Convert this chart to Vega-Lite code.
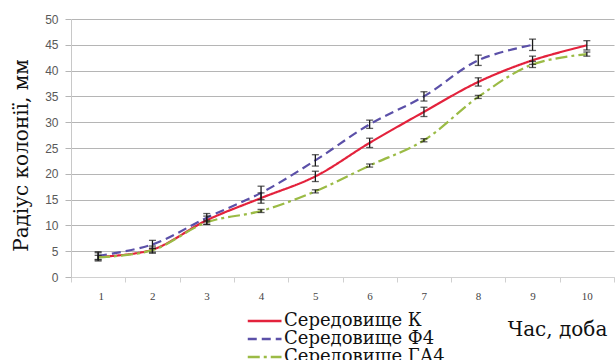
{
  "$schema": "https://vega.github.io/schema/vega-lite/v6.json",
  "autosize": {"type": "none"},
  "width": 543,
  "height": 258,
  "padding": {"left": 71, "top": 19, "right": 2, "bottom": 83},
  "background": "white",
  "config": {"view": {"stroke": null}},
  "data": {"values": [
    {"day": 1, "series": "Середовище К", "r": 3.9, "err": 0.8},
    {"day": 2, "series": "Середовище К", "r": 5.3, "err": 0.7},
    {"day": 3, "series": "Середовище К", "r": 11.0, "err": 0.8},
    {"day": 4, "series": "Середовище К", "r": 15.3, "err": 1.0},
    {"day": 5, "series": "Середовище К", "r": 19.5, "err": 1.0},
    {"day": 6, "series": "Середовище К", "r": 26.0, "err": 0.9},
    {"day": 7, "series": "Середовище К", "r": 32.0, "err": 0.9},
    {"day": 8, "series": "Середовище К", "r": 37.8, "err": 0.8},
    {"day": 9, "series": "Середовище К", "r": 42.0, "err": 0.8},
    {"day": 10, "series": "Середовище К", "r": 44.9, "err": 0.9},
    {"day": 1, "series": "Середовище Ф4", "r": 4.1, "err": 0.8},
    {"day": 2, "series": "Середовище Ф4", "r": 6.3, "err": 0.8},
    {"day": 3, "series": "Середовище Ф4", "r": 11.5, "err": 0.8},
    {"day": 4, "series": "Середовище Ф4", "r": 16.3, "err": 1.3},
    {"day": 5, "series": "Середовище Ф4", "r": 22.6, "err": 1.1},
    {"day": 6, "series": "Середовище Ф4", "r": 29.6, "err": 0.8},
    {"day": 7, "series": "Середовище Ф4", "r": 35.0, "err": 0.9},
    {"day": 8, "series": "Середовище Ф4", "r": 42.0, "err": 1.0},
    {"day": 9, "series": "Середовище Ф4", "r": 45.0, "err": 1.1},
    {"day": 1, "series": "Середовище ГА4", "r": 3.8, "err": 0.4},
    {"day": 2, "series": "Середовище ГА4", "r": 5.2, "err": 0.4},
    {"day": 3, "series": "Середовище ГА4", "r": 10.6, "err": 0.4},
    {"day": 4, "series": "Середовище ГА4", "r": 12.8, "err": 0.3},
    {"day": 5, "series": "Середовище ГА4", "r": 16.6, "err": 0.3},
    {"day": 6, "series": "Середовище ГА4", "r": 21.6, "err": 0.3},
    {"day": 7, "series": "Середовище ГА4", "r": 26.5, "err": 0.3},
    {"day": 8, "series": "Середовище ГА4", "r": 34.9, "err": 0.3},
    {"day": 9, "series": "Середовище ГА4", "r": 41.2, "err": 0.6},
    {"day": 10, "series": "Середовище ГА4", "r": 43.2, "err": 0.4}
  ]},
  "encoding": {
    "x": {
      "field": "day", "type": "quantitative",
      "scale": {"domain": [0.5, 10.5], "nice": false, "zero": false},
      "axis": {
        "values": [0.5, 1.5, 2.5, 3.5, 4.5, 5.5, 6.5, 7.5, 8.5, 9.5, 10.5],
        "labelExpr": "datum.value < 10 ? format(datum.value + 0.5, 'd') : ''",
        "labelOffset": 27,
        "labelFont": "Liberation Serif", "labelFontSize": 11, "labelColor": "#444",
        "labelPadding": 8,
        "tickColor": "#d0d0d0", "tickSize": 5,
        "domainColor": "#d0d0d0",
        "grid": false,
        "title": "Час, доба",
        "titleFont": "DejaVu Serif", "titleFontSize": 20, "titleFontWeight": "normal", "titleColor": "#111",
        "titleX": 486, "titleY": 58, "titleAlign": "center", "titleBaseline": "alphabetic"
      }
    },
    "y": {
      "field": "r", "type": "quantitative",
      "scale": {"domain": [0, 50], "nice": false},
      "axis": {
        "values": [0, 5, 10, 15, 20, 25, 30, 35, 40, 45, 50],
        "labelFont": "Liberation Sans", "labelFontSize": 12, "labelColor": "#595959",
        "labelPadding": 7,
        "tickColor": "#b5b5b5", "tickSize": 6,
        "domainColor": "#c8c8c8",
        "gridColor": "#b5b5b5", "gridWidth": 1,
        "title": "Радіус колонії, мм",
        "titleFont": "DejaVu Serif", "titleFontSize": 20, "titleFontWeight": "normal", "titleColor": "#111",
        "titleAngle": -90, "titleX": -44, "titleY": 136, "titleAlign": "center", "titleBaseline": "alphabetic"
      }
    }
  },
  "layer": [
    {
      "mark": {"type": "line", "interpolate": "catmull-rom", "strokeWidth": 2.2},
      "encoding": {
        "color": {
          "field": "series", "type": "nominal",
          "scale": {"domain": ["Середовище К", "Середовище Ф4", "Середовище ГА4"], "range": ["#e3223c", "#5b50a8", "#9bbb45"]},
          "legend": {
            "orient": "none", "legendX": 194, "legendY": 293,
            "title": null,
            "labelFont": "DejaVu Serif", "labelFontSize": 18, "labelColor": "#111", "labelLimit": 400,
            "symbolType": "M-3.5,0H1", "symbolSize": 225, "symbolStrokeWidth": 2.5,
            "rowPadding": 0, "labelOffset": 1
          }
        },
        "strokeDash": {
          "field": "series", "type": "nominal",
          "scale": {"domain": ["Середовище К", "Середовище Ф4", "Середовище ГА4"], "range": [[1, 0], [9, 5], [12, 4, 3, 4]]},
          "legend": null
        }
      }
    },
    {
      "mark": {"type": "errorbar", "ticks": true, "size": 7, "thickness": 1.3, "color": "#1a1a1a"},
      "encoding": {
        "yError": {"field": "err"}
      }
    }
  ]
}
